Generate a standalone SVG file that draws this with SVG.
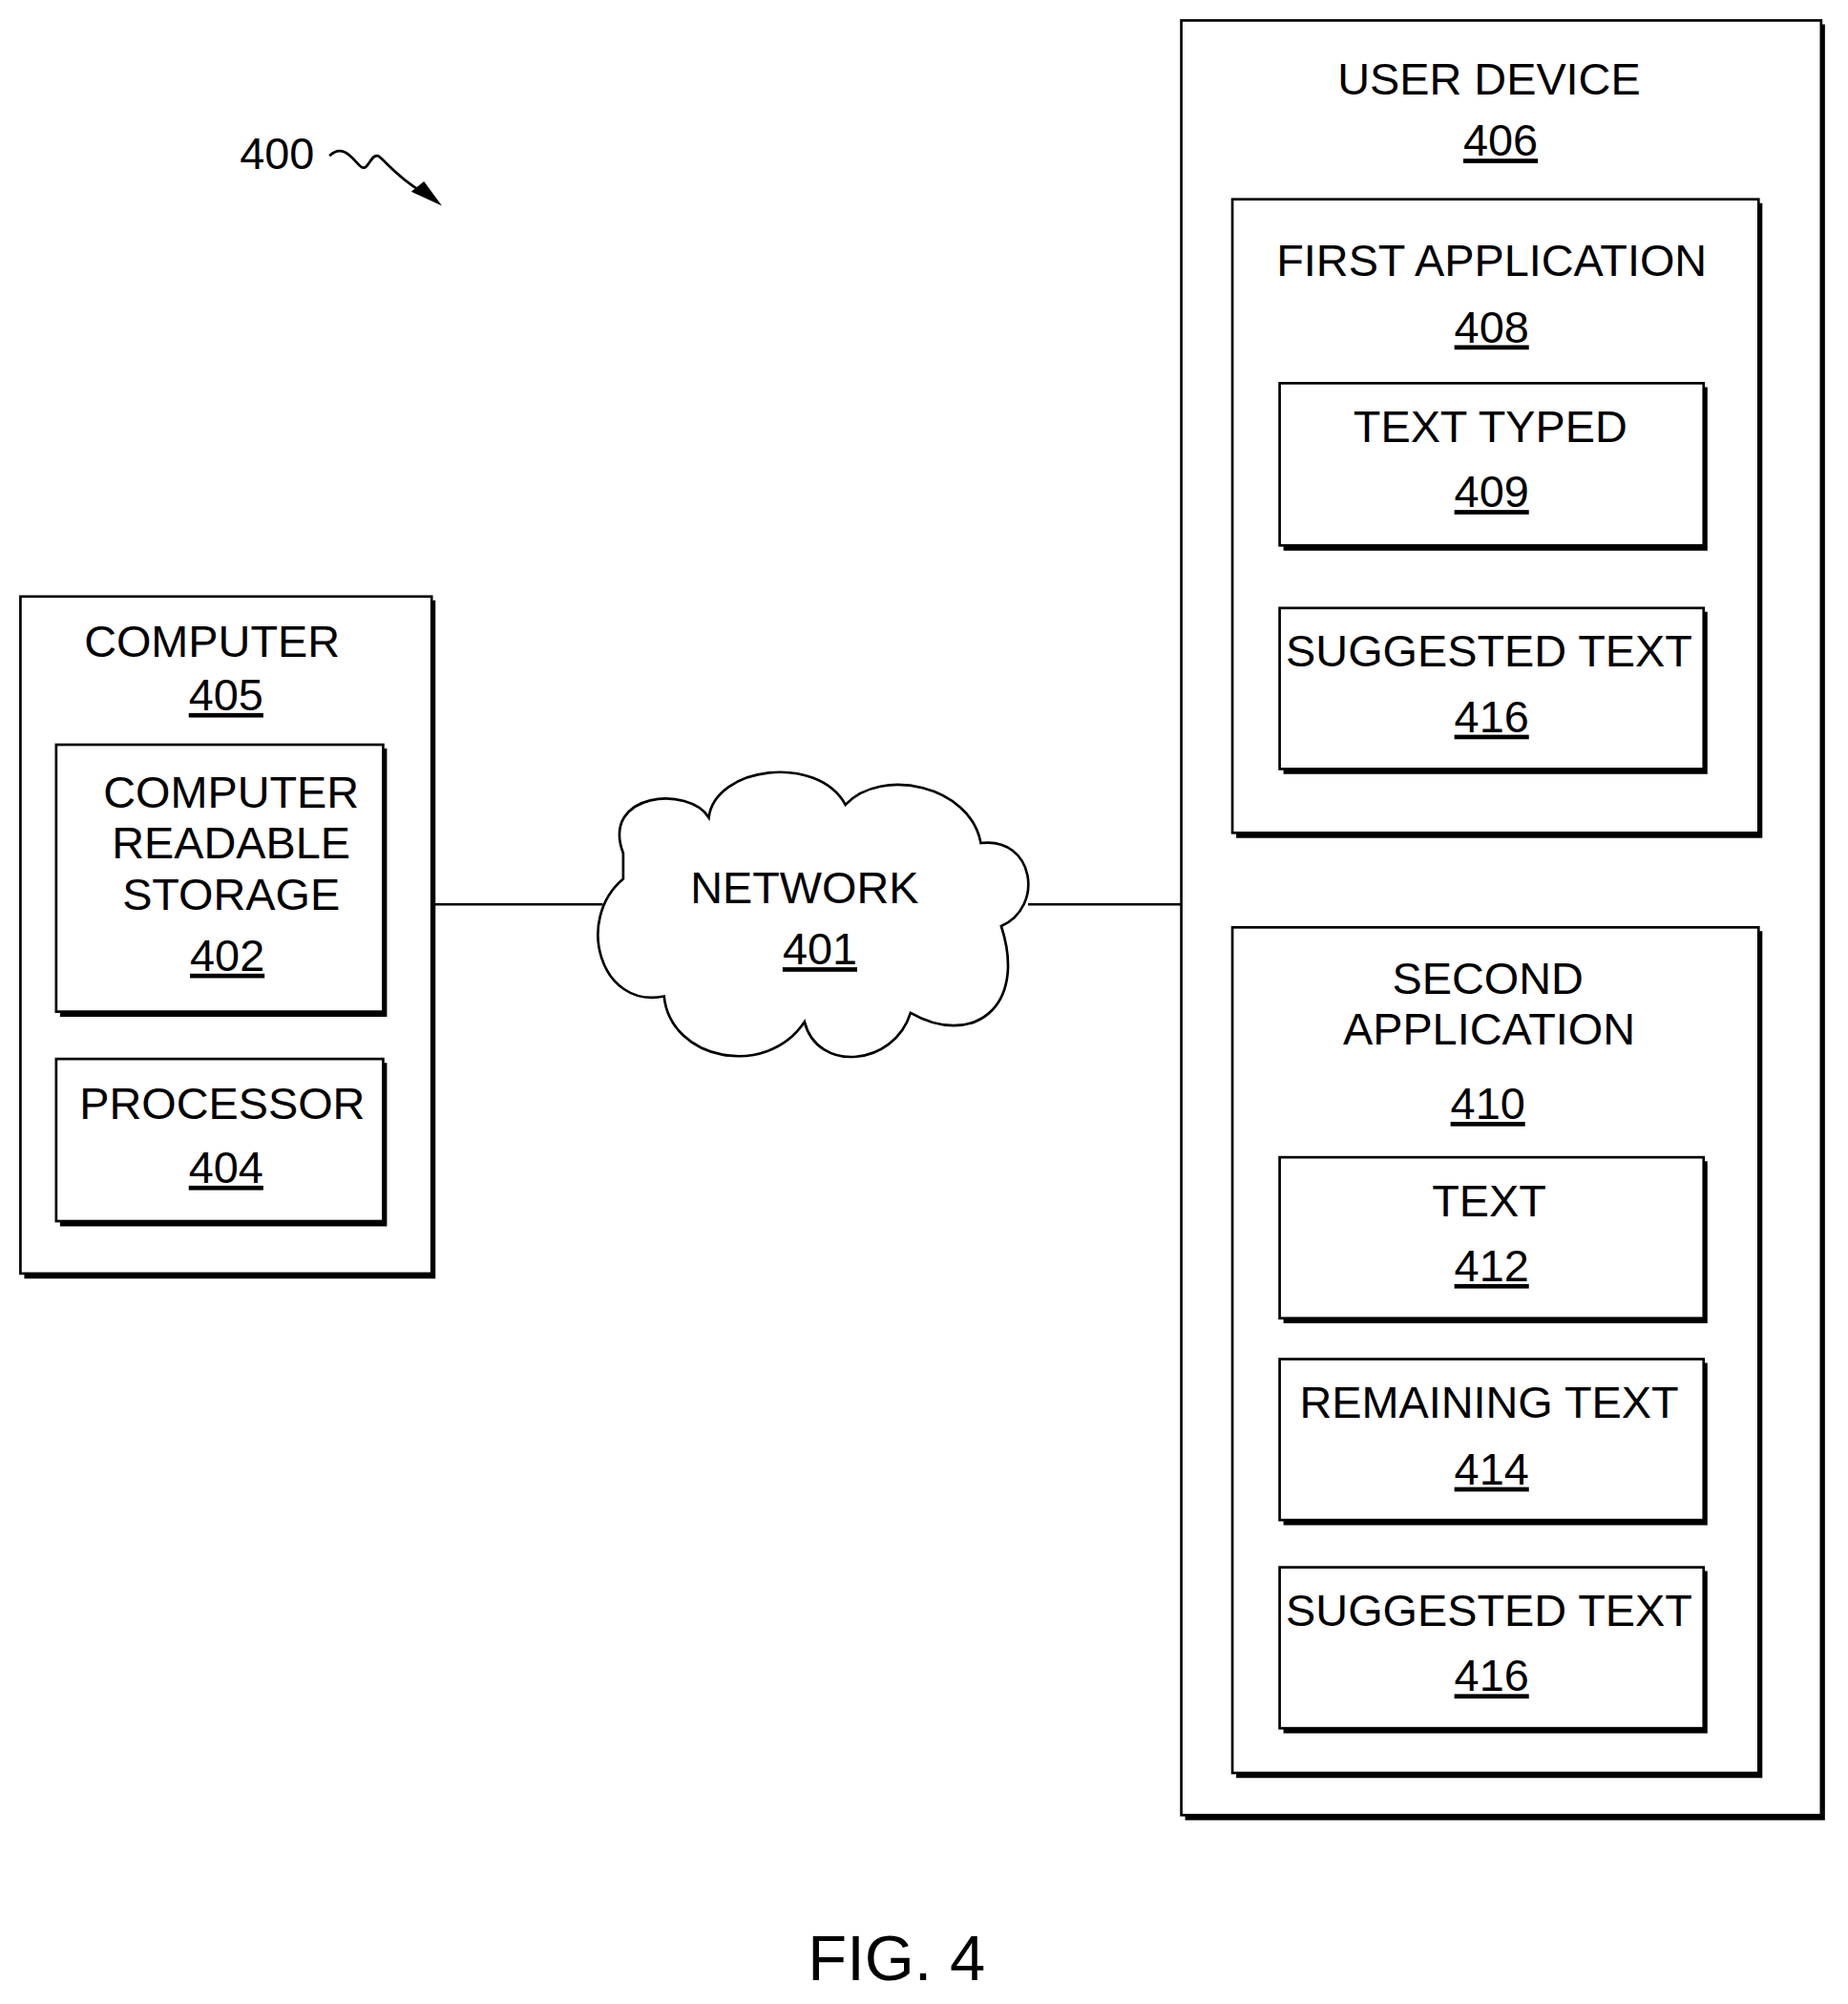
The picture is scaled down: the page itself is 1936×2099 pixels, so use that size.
<svg xmlns="http://www.w3.org/2000/svg" width="1936" height="2099" viewBox="0 0 1936 2099">
<style>
.b{fill:#fff;stroke:#000;stroke-width:2}
.s{fill:none;stroke:#000;stroke-width:4}
text{font-family:"Liberation Sans",Arial,sans-serif;font-size:35px;text-anchor:middle;fill:#000}
.u{text-decoration:underline}
.c{fill:none;stroke:#000;stroke-width:2}
</style>
<rect width="1936" height="2099" fill="#fff"/>
<g transform="scale(1.3379)">
<g id="label400">
<text x="217" y="132">400</text>
<path class="c" d="M258,122 C268,112 276,124 282,130 C288,136 290,120 296,122 C302,126 310,138 330,150"/>
<path d="M346,161 L322,150 L332,142 Z" fill="#000"/>
</g>
<g id="connectors">
<line class="c" x1="340" y1="708" x2="472" y2="708"/>
<line class="c" x1="805" y1="708" x2="925" y2="708"/>
</g>
<g id="computer405">
<path class="s" d="M339,470 V999 H19"/>
<rect class="b" x="16" y="467" width="322" height="530"/>
<text x="166" y="514">COMPUTER</text>
<text x="177" y="556" class="u">405</text>
</g>
<g id="storage402">
<path class="s" d="M301,586 V794 H47"/>
<rect class="b" x="44" y="583" width="256" height="209"/>
<text x="181" y="632">COMPUTER</text>
<text x="181" y="672">READABLE</text>
<text x="181" y="712">STORAGE</text>
<text x="178" y="760" class="u">402</text>
</g>
<g id="processor404">
<path class="s" d="M301,832 V958 H47"/>
<rect class="b" x="44" y="829" width="256" height="127"/>
<text x="174" y="876">PROCESSOR</text>
<text x="177" y="926" class="u">404</text>
</g>
<g id="network401">
<path class="b" d="M488,668 C470,620 540,615 555,640 C560,600 640,590 662,630 C690,600 760,615 768,660 C810,655 818,710 784,725 C805,790 760,820 713,793 C700,835 640,840 630,800 C600,845 525,830 520,780 C470,790 450,720 488,688 Z"/>
<text x="630" y="707">NETWORK</text>
<text x="642" y="755" class="u">401</text>
</g>
<g id="userdevice406">
<path class="s" d="M1427,19 V1423 H928"/>
<rect class="b" x="925" y="16" width="501" height="1405"/>
<text x="1166" y="74">USER DEVICE</text>
<text x="1175" y="122" class="u">406</text>
</g>
<g id="firstapp408">
<path class="s" d="M1378,159 V654 H968"/>
<rect class="b" x="965" y="156" width="412" height="496"/>
<text x="1168" y="216">FIRST APPLICATION</text>
<text x="1168" y="268" class="u">408</text>
</g>
<g id="texttyped409">
<path class="s" d="M1335,303 V429 H1005"/>
<rect class="b" x="1002" y="300" width="332" height="127"/>
<text x="1167" y="346">TEXT TYPED</text>
<text x="1168" y="397" class="u">409</text>
</g>
<g id="suggested416a">
<path class="s" d="M1335,479 V604 H1005"/>
<rect class="b" x="1002" y="476" width="332" height="126"/>
<text x="1166" y="522">SUGGESTED TEXT</text>
<text x="1168" y="573" class="u">416</text>
</g>
<g id="secondapp410">
<path class="s" d="M1378,729 V1390 H968"/>
<rect class="b" x="965" y="726" width="412" height="662"/>
<text x="1165" y="778">SECOND</text>
<text x="1166" y="818">APPLICATION</text>
<text x="1165" y="876" class="u">410</text>
</g>
<g id="text412">
<path class="s" d="M1335,909 V1034 H1005"/>
<rect class="b" x="1002" y="906" width="332" height="126"/>
<text x="1166" y="952">TEXT</text>
<text x="1168" y="1003" class="u">412</text>
</g>
<g id="remaining414">
<path class="s" d="M1335,1067 V1192 H1005"/>
<rect class="b" x="1002" y="1064" width="332" height="126"/>
<text x="1166" y="1110">REMAINING TEXT</text>
<text x="1168" y="1162" class="u">414</text>
</g>
<g id="suggested416b">
<path class="s" d="M1335,1230 V1355 H1005"/>
<rect class="b" x="1002" y="1227" width="332" height="126"/>
<text x="1166" y="1273">SUGGESTED TEXT</text>
<text x="1168" y="1324" class="u">416</text>
</g>
<text x="702" y="1550" style="font-size:50px">FIG. 4</text>
</g>
</svg>
